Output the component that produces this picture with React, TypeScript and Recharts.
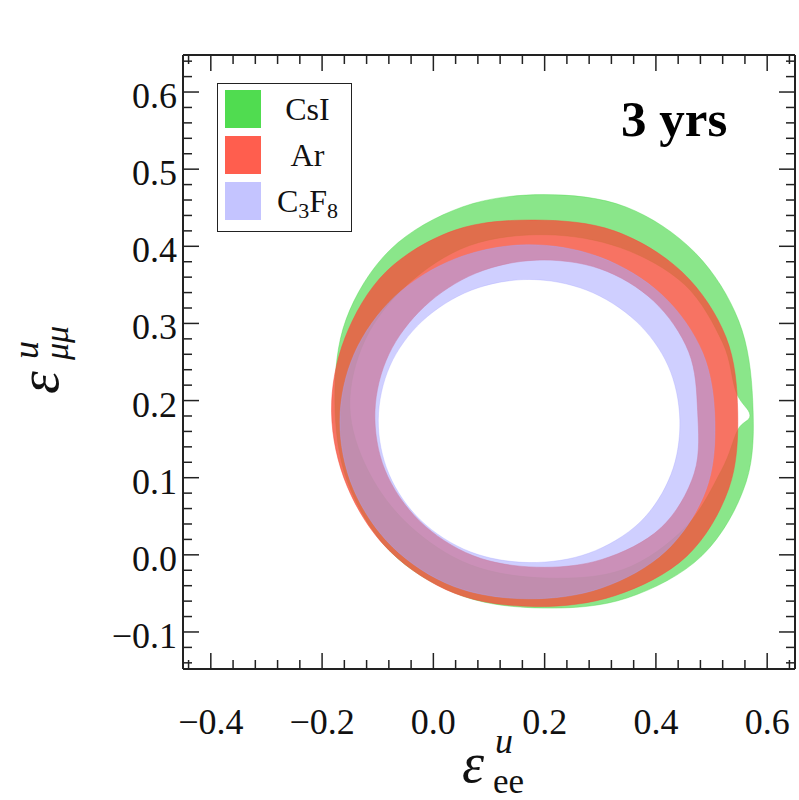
import React from "react";
import { Legend, Scatter, ScatterChart, XAxis, YAxis } from "recharts";

// ring boundaries, [eps_ee, eps_mumu], going round anticlockwise from the right
const CSI_OUTER: [number, number][] = [
  [0.574, 0.2], [0.549, 0.303], [0.47, 0.392], [0.346, 0.451], [0.199, 0.467],
  [0.052, 0.451], [-0.077, 0.396], [-0.157, 0.305], [-0.177, 0.2], [-0.155, 0.096],
  [-0.077, 0.004], [0.051, -0.053], [0.199, -0.069], [0.348, -0.056], [0.483, -0.001],
  [0.562, 0.094],
];
const CSI_INNER: [number, number][] = [
  [0.569, 0.181], [0.544, 0.211], [0.52, 0.275], [0.452, 0.35], [0.337, 0.398],
  [0.202, 0.415], [0.065, 0.401], [-0.047, 0.35], [-0.123, 0.278], [-0.15, 0.192],
  [-0.117, 0.109], [-0.043, 0.038], [0.067, -0.013], [0.202, -0.03], [0.341, -0.019],
  [0.452, 0.035], [0.518, 0.11], [0.547, 0.162],
];
const AR_OUTER: [number, number][] = [
  [0.547, 0.185], [0.526, 0.282], [0.448, 0.366], [0.325, 0.42], [0.182, 0.434],
  [0.039, 0.421], [-0.085, 0.367], [-0.159, 0.281], [-0.183, 0.185], [-0.155, 0.089],
  [-0.08, 0.006], [0.039, -0.05], [0.182, -0.067], [0.326, -0.053], [0.455, -0.002],
  [0.531, 0.086],
];
const AR_INNER: [number, number][] = [
  [0.475, 0.186], [0.459, 0.263], [0.396, 0.329], [0.299, 0.371], [0.185, 0.382],
  [0.076, 0.365], [-0.016, 0.322], [-0.08, 0.26], [-0.105, 0.186], [-0.087, 0.11],
  [-0.025, 0.044], [0.071, -0.001], [0.185, -0.016], [0.303, -0.006], [0.409, 0.035],
  [0.469, 0.106],
];
const C3F8_OUTER: [number, number][] = [
  [0.506, 0.174], [0.484, 0.262], [0.411, 0.337], [0.299, 0.386], [0.169, 0.402],
  [0.04, 0.384], [-0.069, 0.335], [-0.142, 0.261], [-0.168, 0.174], [-0.144, 0.086],
  [-0.073, 0.01], [0.037, -0.041], [0.169, -0.057], [0.302, -0.043], [0.418, 0.005],
  [0.49, 0.084],
];
const C3F8_INNER: [number, number][] = [
  [0.443, 0.175], [0.422, 0.245], [0.364, 0.303], [0.276, 0.343], [0.172, 0.357],
  [0.068, 0.343], [-0.02, 0.303], [-0.078, 0.245], [-0.099, 0.175], [-0.08, 0.105],
  [-0.023, 0.045], [0.066, 0.004], [0.172, -0.01], [0.279, 0.002], [0.371, 0.042],
  [0.427, 0.104],
];

const SERIES = ["CsI", "Ar", "C3F8"];
const RING_FILL = ["#4cd94c", "#f5503c", "#a8a8ff"];
const RING_OPACITY = [0.65, 0.8, 0.55];
const SWATCH = ["#50dc50", "#ff5e4e", "#c4c4ff"];

const X_MAJOR = [-0.4, -0.2, 0, 0.2, 0.4, 0.6];
const X_LABELS = ["\u22120.4", "\u22120.2", "0.0", "0.2", "0.4", "0.6"];
const X_MINOR = [
  -0.44, -0.36, -0.32, -0.28, -0.24, -0.16, -0.12, -0.08, -0.04, 0.04, 0.08, 0.12,
  0.16, 0.24, 0.28, 0.32, 0.36, 0.44, 0.48, 0.52, 0.56, 0.64,
];
const Y_MAJOR = [-0.1, 0, 0.1, 0.2, 0.3, 0.4, 0.5, 0.6];
const Y_LABELS = ["\u22120.1", "0.0", "0.1", "0.2", "0.3", "0.4", "0.5", "0.6"];
const Y_MINOR = [
  -0.14, -0.12, -0.08, -0.06, -0.04, -0.02, 0.02, 0.04, 0.06, 0.08, 0.12, 0.14, 0.16,
  0.18, 0.22, 0.24, 0.26, 0.28, 0.32, 0.34, 0.36, 0.38, 0.42, 0.44, 0.46, 0.48, 0.52,
  0.54, 0.56, 0.58, 0.62, 0.64,
];

const FONT = "'Liberation Serif', 'Times New Roman', serif";
const FRAME = "#222";
const X_TICKS = [...X_MAJOR, ...X_MINOR];
const Y_TICKS = [...Y_MAJOR, ...Y_MINOR];
const X_DOMAIN = [-0.45, 0.65];
const Y_DOMAIN = [-0.148, 0.648];

const rings = [
  { outer: CSI_OUTER, inner: CSI_INNER },
  { outer: AR_OUTER, inner: AR_INNER },
  { outer: C3F8_OUTER, inner: C3F8_INNER },
];

type Pt = { x: number; y: number };

// closed smooth curve through the scaled boundary points
function closedPath(p: Pt[]) {
  const n = p.length;
  let d = `M${p[0].x},${p[0].y}`;
  for (let i = 0; i < n; i++) {
    const p0 = p[(i - 1 + n) % n];
    const p1 = p[i];
    const p2 = p[(i + 1) % n];
    const p3 = p[(i + 2) % n];
    const c1x = p1.x + (p2.x - p0.x) / 6;
    const c1y = p1.y + (p2.y - p0.y) / 6;
    const c2x = p2.x - (p3.x - p1.x) / 6;
    const c2y = p2.y - (p3.y - p1.y) / 6;
    d += `C${c1x},${c1y} ${c2x},${c2y} ${p2.x},${p2.y}`;
  }
  return d + "Z";
}

const ringShape = (nOuter: number, fill: string, opacity: number) => (props: any) => {
  const pts: Pt[] = props.points || [];
  if (pts.length < 4) return <g />;
  const d = closedPath(pts.slice(0, nOuter)) + closedPath(pts.slice(nOuter));
  return (
    <path
      d={d}
      fill={fill}
      fillOpacity={opacity}
      fillRule="evenodd"
      stroke={fill}
      strokeOpacity={opacity * 0.6}
      strokeWidth={1}
    />
  );
};

const NoDot = () => <g />;

const BottomTick = (props: any) => {
  const { x, y, payload } = props;
  const i = X_MAJOR.indexOf(payload.value);
  return (
    <g>
      <line x1={x} x2={x} y1={y} y2={y - (i >= 0 ? 16 : 9)} stroke={FRAME} strokeWidth={1.5} />
      {i >= 0 && (
        <text x={x} y={y + 65} textAnchor="middle" fontSize={36} fontFamily={FONT} fill="#111">
          {X_LABELS[i]}
        </text>
      )}
    </g>
  );
};

const TopTick = (props: any) => {
  const { x, y, payload } = props;
  const major = X_MAJOR.includes(payload.value);
  return <line x1={x} x2={x} y1={y} y2={y + (major ? 16 : 9)} stroke={FRAME} strokeWidth={1.5} />;
};

const LeftTick = (props: any) => {
  const { x, y, payload } = props;
  const i = Y_MAJOR.indexOf(payload.value);
  return (
    <g>
      <line x1={x} x2={x + (i >= 0 ? 16 : 9)} y1={y} y2={y} stroke={FRAME} strokeWidth={1.5} />
      {i >= 0 && (
        <text x={x - 6} y={y + 16} textAnchor="end" fontSize={36} fontFamily={FONT} fill="#111">
          {Y_LABELS[i]}
        </text>
      )}
    </g>
  );
};

const RightTick = (props: any) => {
  const { x, y, payload } = props;
  const major = Y_MAJOR.includes(payload.value);
  return <line x1={x} x2={x - (major ? 16 : 9)} y1={y} y2={y} stroke={FRAME} strokeWidth={1.5} />;
};

const XTitle = () => (
  <g fontFamily={FONT} fill="#111">
    <text x={462} y={782} fontSize={56} fontStyle="italic">ε</text>
    <text x={495} y={753} fontSize={36} fontStyle="italic">u</text>
    <text x={493} y={793} fontSize={35}>ee</text>
  </g>
);

const YTitle = () => (
  <g fontFamily={FONT} fill="#111" transform="translate(58,394) rotate(-90)">
    <text x={0} y={0} fontSize={58} fontStyle="italic">ε</text>
    <text x={35} y={-20} fontSize={36} fontStyle="italic">u</text>
    <text x={34} y={10} fontSize={34} fontStyle="italic">μμ</text>
  </g>
);

const Years = () => (
  <text x={621} y={136} fontSize={51} fontWeight="bold" fontFamily={FONT} fill="#000">
    3 yrs
  </text>
);

const legendLabel = (name: string) =>
  name === "C3F8" ? (
    <span>
      C<sub style={{ fontSize: 22, verticalAlign: -6 }}>3</sub>F
      <sub style={{ fontSize: 22, verticalAlign: -6 }}>8</sub>
    </span>
  ) : (
    name
  );

const LegendBox = () => (
  <div
    style={{
      position: "relative",
      width: 135,
      height: 149,
      border: `1.5px solid ${FRAME}`,
      boxSizing: "border-box",
      background: "#fff",
      fontFamily: FONT,
      fontSize: 32,
      color: "#111",
    }}
  >
    {SERIES.map((s, i) => (
      <div key={s} style={{ position: "absolute", left: 0, top: 6 + i * 46, width: 133, height: 38 }}>
        <div style={{ position: "absolute", left: 7, top: 0, width: 36, height: 38, background: SWATCH[i] }} />
        <div
          style={{
            position: "absolute",
            left: 46,
            width: 87,
            top: 0,
            height: 38,
            lineHeight: "38px",
            textAlign: "center",
          }}
        >
          {legendLabel(s)}
        </div>
      </div>
    ))}
  </div>
);

export default function App() {
  return (
    <div style={{ position: "absolute", left: 0, top: 0, width: 799, height: 800, background: "#fff" }}>
      <ScatterChart width={799} height={800} margin={{ top: 54, right: 3, bottom: 0, left: 0 }}>
        <XAxis
          xAxisId={0}
          type="number"
          dataKey="x"
          domain={X_DOMAIN}
          ticks={X_TICKS}
          interval={0}
          height={131}
          tickSize={0}
          tickMargin={0}
          tickLine={false}
          tick={BottomTick}
          axisLine={{ stroke: FRAME, strokeWidth: 2 }}
          label={{ content: XTitle }}
        />
        <XAxis
          xAxisId="top"
          orientation="top"
          type="number"
          dataKey="x"
          domain={X_DOMAIN}
          ticks={X_TICKS}
          interval={0}
          height={1}
          tickSize={0}
          tickMargin={0}
          tickLine={false}
          tick={TopTick}
          axisLine={{ stroke: FRAME, strokeWidth: 2 }}
          label={{ content: Years }}
        />
        <YAxis
          yAxisId={0}
          type="number"
          dataKey="y"
          domain={Y_DOMAIN}
          ticks={Y_TICKS}
          interval={0}
          width={183}
          tickSize={0}
          tickMargin={0}
          tickLine={false}
          tick={LeftTick}
          axisLine={{ stroke: FRAME, strokeWidth: 2 }}
          label={{ content: YTitle }}
        />
        <YAxis
          yAxisId="right"
          orientation="right"
          type="number"
          dataKey="y"
          domain={Y_DOMAIN}
          ticks={Y_TICKS}
          interval={0}
          width={1}
          tickSize={0}
          tickMargin={0}
          tickLine={false}
          tick={RightTick}
          axisLine={{ stroke: FRAME, strokeWidth: 2 }}
        />
        {rings.map((r, i) => (
          <Scatter
            key={SERIES[i]}
            name={SERIES[i]}
            xAxisId={0}
            yAxisId={0}
            data={[...r.outer, ...r.inner].map(([x, y]) => ({ x, y }))}
            fill={RING_FILL[i]}
            shape={NoDot}
            line={ringShape(r.outer.length, RING_FILL[i], RING_OPACITY[i])}
            isAnimationActive={false}
          />
        ))}
        {/* invisible series so the mirrored top/right axes get drawn */}
        <Scatter
          name="frame"
          xAxisId="top"
          yAxisId="right"
          data={C3F8_OUTER.map(([x, y]) => ({ x, y }))}
          shape={NoDot}
          legendType="none"
          isAnimationActive={false}
        />
        <Legend
          layout="horizontal"
          verticalAlign="middle"
          align="center"
          content={LegendBox}
          wrapperStyle={{ left: 217, top: 83, width: 135, height: 149 }}
        />
      </ScatterChart>
    </div>
  );
}
